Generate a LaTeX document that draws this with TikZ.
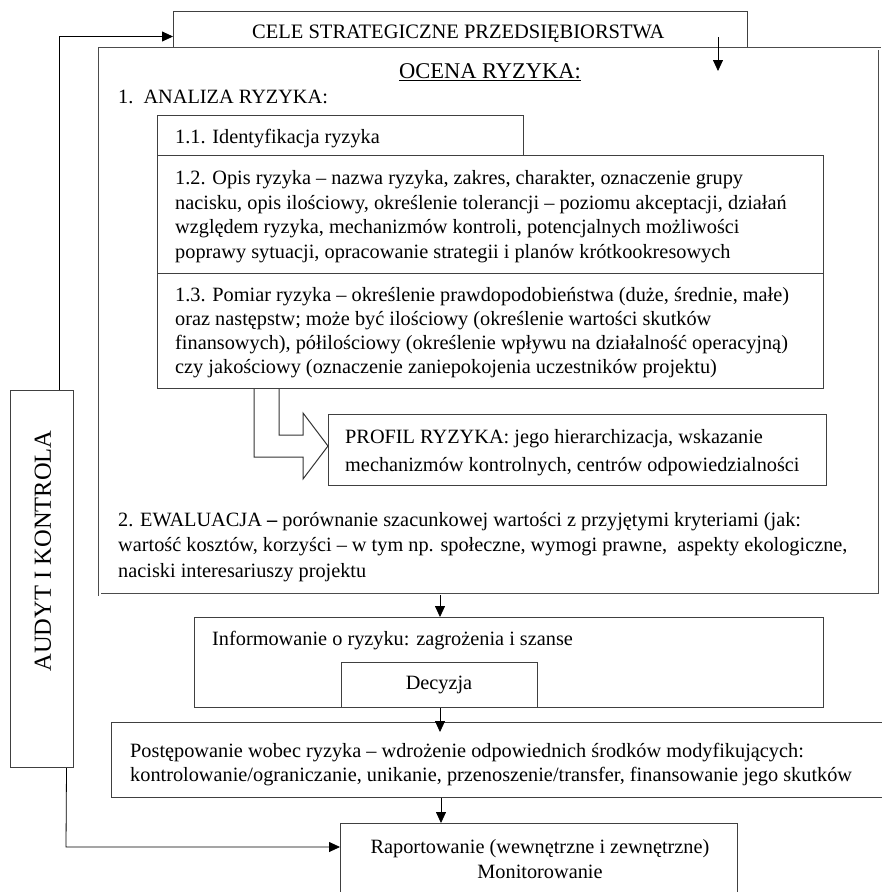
\documentclass[tikz,border=0pt]{standalone}
\usepackage{fontspec}
\setmainfont{Liberation Serif}
\usetikzlibrary{arrows.meta}
\begin{document}
\begin{tikzpicture}[x=1pt,y=-1pt,
  box/.style={draw=black!75, line width=1pt, inner sep=0pt, anchor=north west},
  dbox/.style={draw=black!70, line width=0.6pt, double=white, double distance=1.6pt, inner sep=0pt, anchor=north west, fill=white},
  txt/.style={inner sep=0pt, anchor=base west, font=\fontsize{20.3}{24}\selectfont},
  arr/.style={draw=black, line width=0.8pt, -{Triangle[length=11pt,width=10pt]}},
  ln/.style={draw=black!80, line width=1pt}]
\useasboundingbox (0,0) rectangle (882,892);
\fill[white] (0,0) rectangle (882,892);

% boxes
\node[box, minimum width=574pt, minimum height=50pt] (cele) at (173,11) {};
\node[dbox, minimum width=780pt, minimum height=546pt] (ocena) at (99.5,48.5) {};
\node[box, minimum width=366pt, minimum height=40pt] (b11) at (157,115) {};
\node[box, minimum width=666pt, minimum height=118pt] (b12) at (157,155) {};
\node[box, minimum width=666pt, minimum height=115pt] (b13) at (157,273) {};
\node[box, minimum width=498pt, minimum height=71pt] (profil) at (328,414) {};
\node[box, minimum width=629pt, minimum height=90pt] (info) at (194,617) {};
\node[box, minimum width=196pt, minimum height=45pt] (decyzja) at (341,662) {};
\node[box, minimum width=790pt, minimum height=75pt] (post) at (111,722) {};
\node[box, minimum width=397pt, minimum height=80pt] (rap) at (340,823) {};
\node[box, minimum width=63pt, minimum height=377pt] (audyt) at (10,390) {};

% texts (multi-line nodes: base = baseline of last line)
\node[txt, font=\fontsize{20.5}{24}\selectfont] (tcele) at (252,38) {CELE STRATEGICZNE PRZEDSIĘBIORSTWA};
\node[inner sep=0pt, anchor=base, font=\fontsize{22.5}{26}\selectfont] (tocena) at (490,78) {\underline{OCENA RYZYKA:}};
\node[txt] (tanal) at (118,103) {1.\ \ ANALIZA RYZYKA:};
\node[txt] (t11) at (175,143) {1.1. Identyfikacja ryzyka};
\node[txt, align=left, font=\fontsize{20.3}{24.5}\selectfont] (t12) at (175,258) {1.2. Opis ryzyka – nazwa ryzyka, zakres, charakter, oznaczenie grupy\\
nacisku, opis ilościowy, określenie tolerancji – poziomu akceptacji, działań\\
względem ryzyka, mechanizmów kontroli, potencjalnych możliwości\\
poprawy sytuacji, opracowanie strategii i planów krótkookresowych};
\node[txt, align=left] (t13) at (175,373) {1.3. Pomiar ryzyka – określenie prawdopodobieństwa (duże, średnie, małe)\\
oraz następstw; może być ilościowy (określenie wartości skutków\\
finansowych), półilościowy (określenie wpływu na działalność operacyjną)\\
czy jakościowy (oznaczenie zaniepokojenia uczestników projektu)};
\node[txt, font=\fontsize{20.3}{28}\selectfont, align=left] (tprofil) at (345,471) {PROFIL RYZYKA: jego hierarchizacja, wskazanie\\
mechanizmów kontrolnych, centrów odpowiedzialności};
\node[txt, align=left, font=\fontsize{20.3}{25.5}\selectfont] (tewal) at (118,577) {2. EWALUACJA \textbf{–} porównanie szacunkowej wartości z przyjętymi kryteriami (jak:\\
wartość kosztów, korzyści – w tym np. społeczne, wymogi prawne,\ \ aspekty ekologiczne,\\
naciski interesariuszy projektu};
\node[txt] (tinfo) at (212,645) {Informowanie o ryzyku: zagrożenia i szanse};
\node[inner sep=0pt, anchor=base, font=\fontsize{20.3}{24}\selectfont] (tdec) at (439,689) {Decyzja};
\node[txt, align=left, font=\fontsize{20.3}{24}\selectfont] (tpost) at (130,781) {Postępowanie wobec ryzyka – wdrożenie odpowiednich środków modyfikujących:\\
kontrolowanie/ograniczanie, unikanie, przenoszenie/transfer, finansowanie jego skutków};
\node[inner sep=0pt, anchor=base, font=\fontsize{20.3}{25}\selectfont, align=center] (trap) at (540,878) {Raportowanie (wewnętrzne i zewnętrzne)\\Monitorowanie};
\node[inner sep=0pt, rotate=90, font=\fontsize{24.5}{28}\selectfont] (taud) at (43,551) {AUDYT I KONTROLA};

% block arrow from 1.3 to profil
\draw[ln, fill=white] (b13.south west -| 254,0) -- (254,457) -- (303,457) -- (303,479) -- (profil.west |- 0,446) -- (303,413) -- (303,435) -- (279,435) -- (b13.south west -| 279,0);

% connectors
\coordinate (c1) at (718,37);
\coordinate (c1e) at (718,71);
\draw[arr] (c1) -- (c1e);
\draw[arr] ([xshift=17.5pt]audyt.north) |- (cele.west);
\draw[arr] (ocena.south -| 440,0) -- (info.north -| 440,0);
\coordinate (c2e) at (440,732);
\draw[arr] (decyzja.south -| 440,0) -- (c2e);
\draw[arr] (post.south -| 441,0) -- (rap.north -| 441,0);
\coordinate (c3) at (66,847);
\draw[arr] ([xshift=24.5pt]audyt.south) -- (c3) -- (rap.west |- c3);
\end{tikzpicture}
\end{document}
